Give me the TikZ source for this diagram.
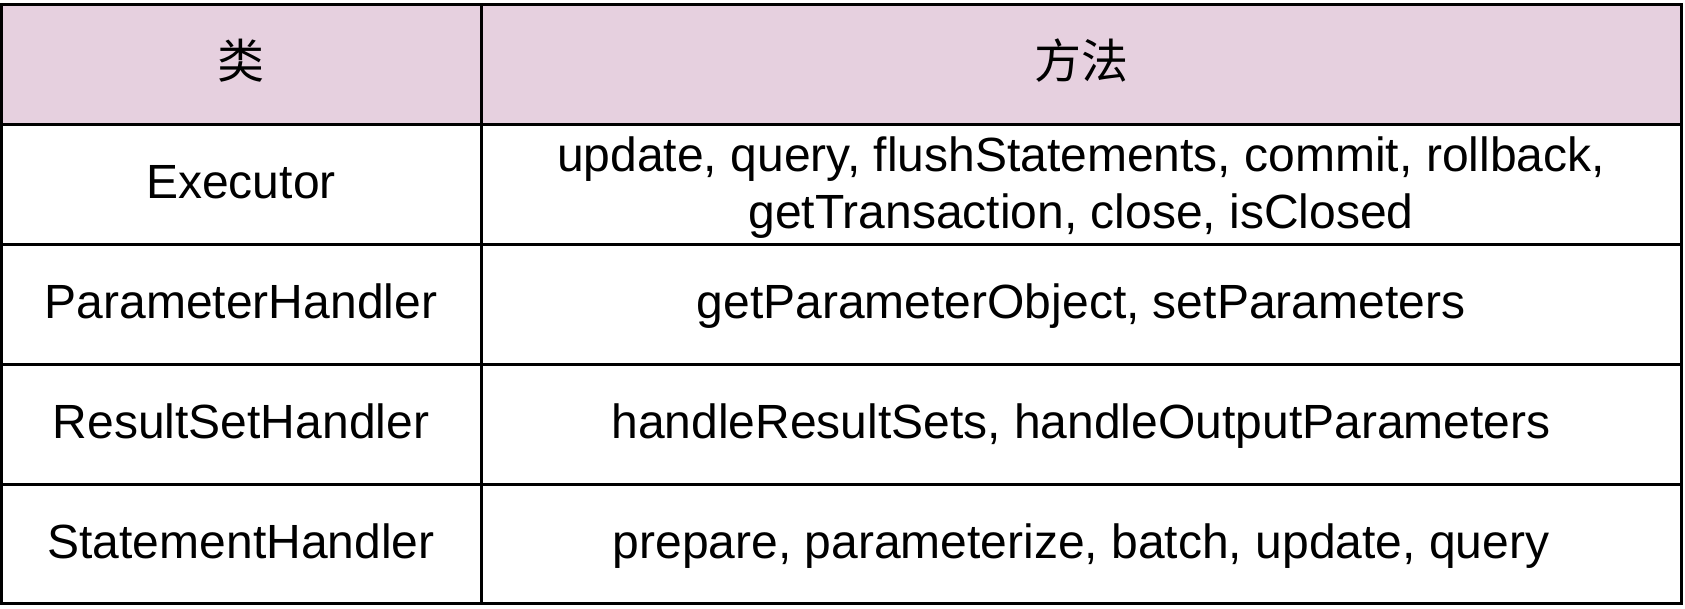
\documentclass[tikz,border=0pt]{standalone}
\usepackage{fontspec}
\setmainfont{Liberation Sans}
\newfontfamily\cjk{Noto Sans CJK SC}
\definecolor{hdrfill}{RGB}{230,208,223}
\begin{document}
\begin{tikzpicture}[x=1pt,y=-1pt,
  grid/.style={line width=3pt, draw=black},
  celltext/.style={font=\fontsize{48}{56.7}\selectfont, align=center, inner sep=0pt, anchor=base},
  headtext/.style={font=\cjk\fontsize{47}{56}\selectfont, inner sep=0pt, anchor=base}]
\useasboundingbox (0,0) rectangle (1685,608);
\fill[hdrfill] (1.5,4) rectangle (1681.5,124);
\foreach \yy in {124,244,364,484}{
  \draw[grid] (1.5,\yy) -- (1681.5,\yy);
}
\draw[grid] (481,4) -- (481,603.5);
\draw[grid] (1.5,4) rectangle (1681.5,603.5);
% header
\node[headtext] (h1) at (241,78) {类};
\node[headtext] (h2) at (1081,78) {方法};
% class column
\node[celltext] (c1) at (241,198) {Executor};
\node[celltext] (c2) at (241,318) {ParameterHandler};
\node[celltext] (c3) at (241,438) {ResultSetHandler};
\node[celltext] (c4) at (241,558) {StatementHandler};
% method column
\node[celltext, anchor=center] (m1) at (1081,187.5) {update, query, flushStatements, commit, rollback,\\getTransaction, close, isClosed};
\node[celltext] (m2) at (1081,318) {getParameterObject, setParameters};
\node[celltext] (m3) at (1081,438) {handleResultSets, handleOutputParameters};
\node[celltext] (m4) at (1081,558) {prepare, parameterize, batch, update, query};
\end{tikzpicture}
\end{document}
